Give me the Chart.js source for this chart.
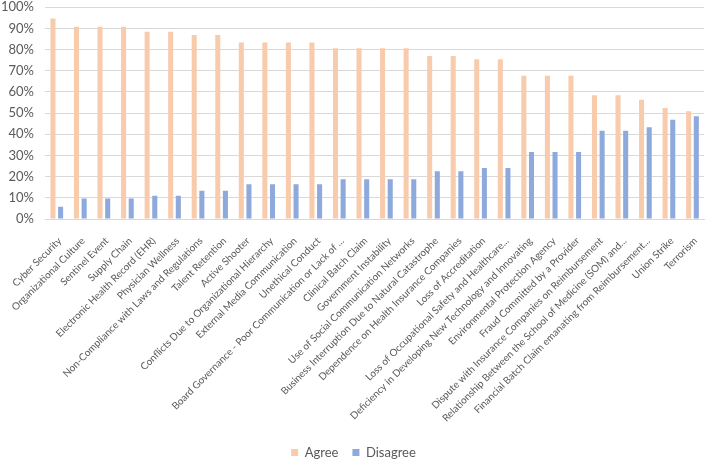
<!DOCTYPE html>
<html>
<head>
<meta charset="utf-8">
<script src="https://cdn.jsdelivr.net/npm/chart.js@4"></script>
<style>
html,body{margin:0;padding:0;background:#fff;}
#wrap{width:709px;height:459px;position:relative;}
</style>
</head>
<body>
<div id="wrap"><canvas id="c" width="709" height="459"></canvas></div>
<script>
const categories = [
  "Cyber Security",
  "Organizational Culture",
  "Sentinel Event",
  "Supply Chain",
  "Electronic Health Record (EHR)",
  "Physician Wellness",
  "Non-Compliance with Laws and Regulations",
  "Talent Retention",
  "Active Shooter",
  "Conflicts Due to Organizational Hierarchy",
  "External Media Communication",
  "Unethical Conduct",
  "Board Governance - Poor Communication or Lack of ...",
  "Clinical Batch Claim",
  "Government Instability",
  "Use of Social Communication Networks",
  "Business Interruption Due to Natural Catastrophe",
  "Dependence on Health Insurance Companies",
  "Loss of Accreditation",
  "Loss of Occupational Safety and Healthcare...",
  "Deficiency in Developing New Technology and Innovating",
  "Environmental Protection Agency",
  "Fraud Committed by a Provider",
  "Dispute with Insurance Companies on Reimbursement",
  "Relationship Between the School of Medicine (SOM) and...",
  "Financial Batch Claim emanating from Reimbursement...",
  "Union Strike",
  "Terrorism"
];
const agree = [94.7, 90.8, 90.8, 90.8, 88.4, 88.4, 86.9, 86.9, 83.3, 83.3, 83.3, 83.3, 80.6, 80.6,
               80.6, 80.6, 77.0, 77.0, 75.4, 75.4, 67.6, 67.6, 67.6, 58.4, 58.4, 56.3, 52.4, 50.9];
const disagree = [5.8, 9.7, 9.7, 9.7, 11.0, 11.0, 13.3, 13.3, 16.4, 16.4, 16.4, 16.4, 18.8, 18.8,
                  18.8, 18.8, 22.5, 22.5, 24.1, 24.1, 31.6, 31.6, 31.6, 41.6, 41.6, 43.3, 46.9, 48.5];
const seriesNames = ["Agree", "Disagree"];
const yTicks = [0, 10, 20, 30, 40, 50, 60, 70, 80, 90, 100];

const FONT = "Lato, 'Liberation Sans', sans-serif";
new Chart(document.getElementById('c'), {
  type: 'bar',
  data: {
    labels: categories,
    datasets: [
      { label: seriesNames[0], data: agree, backgroundColor: '#F8CBAD',
        categoryPercentage: 0.65, barPercentage: 0.66 },
      { label: seriesNames[1], data: disagree, backgroundColor: '#8EA9DB',
        categoryPercentage: 0.65, barPercentage: 0.66 }
    ]
  },
  options: {
    responsive: false,
    animation: false,
    layout: { padding: { top: 0, right: 2, left: 0, bottom: -10 } },
    plugins: {
      tooltip: { enabled: false },
      legend: {
        position: 'bottom',
        labels: {
          boxWidth: 7, boxHeight: 7, padding: 14,
          color: '#595959',
          font: { family: FONT, size: 13 }
        }
      }
    },
    scales: {
      x: {
        grid: { display: false },
        border: { display: true, color: '#d9d9d9' },
        ticks: {
          autoSkip: false, minRotation: 45, maxRotation: 45,
          color: '#595959', padding: 8, labelOffset: 3,
          font: { family: FONT, size: 10 }
        },
        afterFit: (s) => { s.height = 213; }
      },
      y: {
        min: 0, max: 100,
        afterBuildTicks: (s) => { s.ticks = yTicks.map(v => ({ value: v })); },
        grid: { color: '#d9d9d9', drawTicks: true, tickLength: 11, tickColor: 'rgba(0,0,0,0)' },
        border: { display: false },
        ticks: {
          color: '#595959', padding: 0,
          font: { family: FONT, size: 13, lineHeight: 1.1 },
          callback: (v) => v + '%'
        },
        afterFit: (s) => { s.width = 45; }
      }
    }
  }
});
</script>
</body>
</html>
